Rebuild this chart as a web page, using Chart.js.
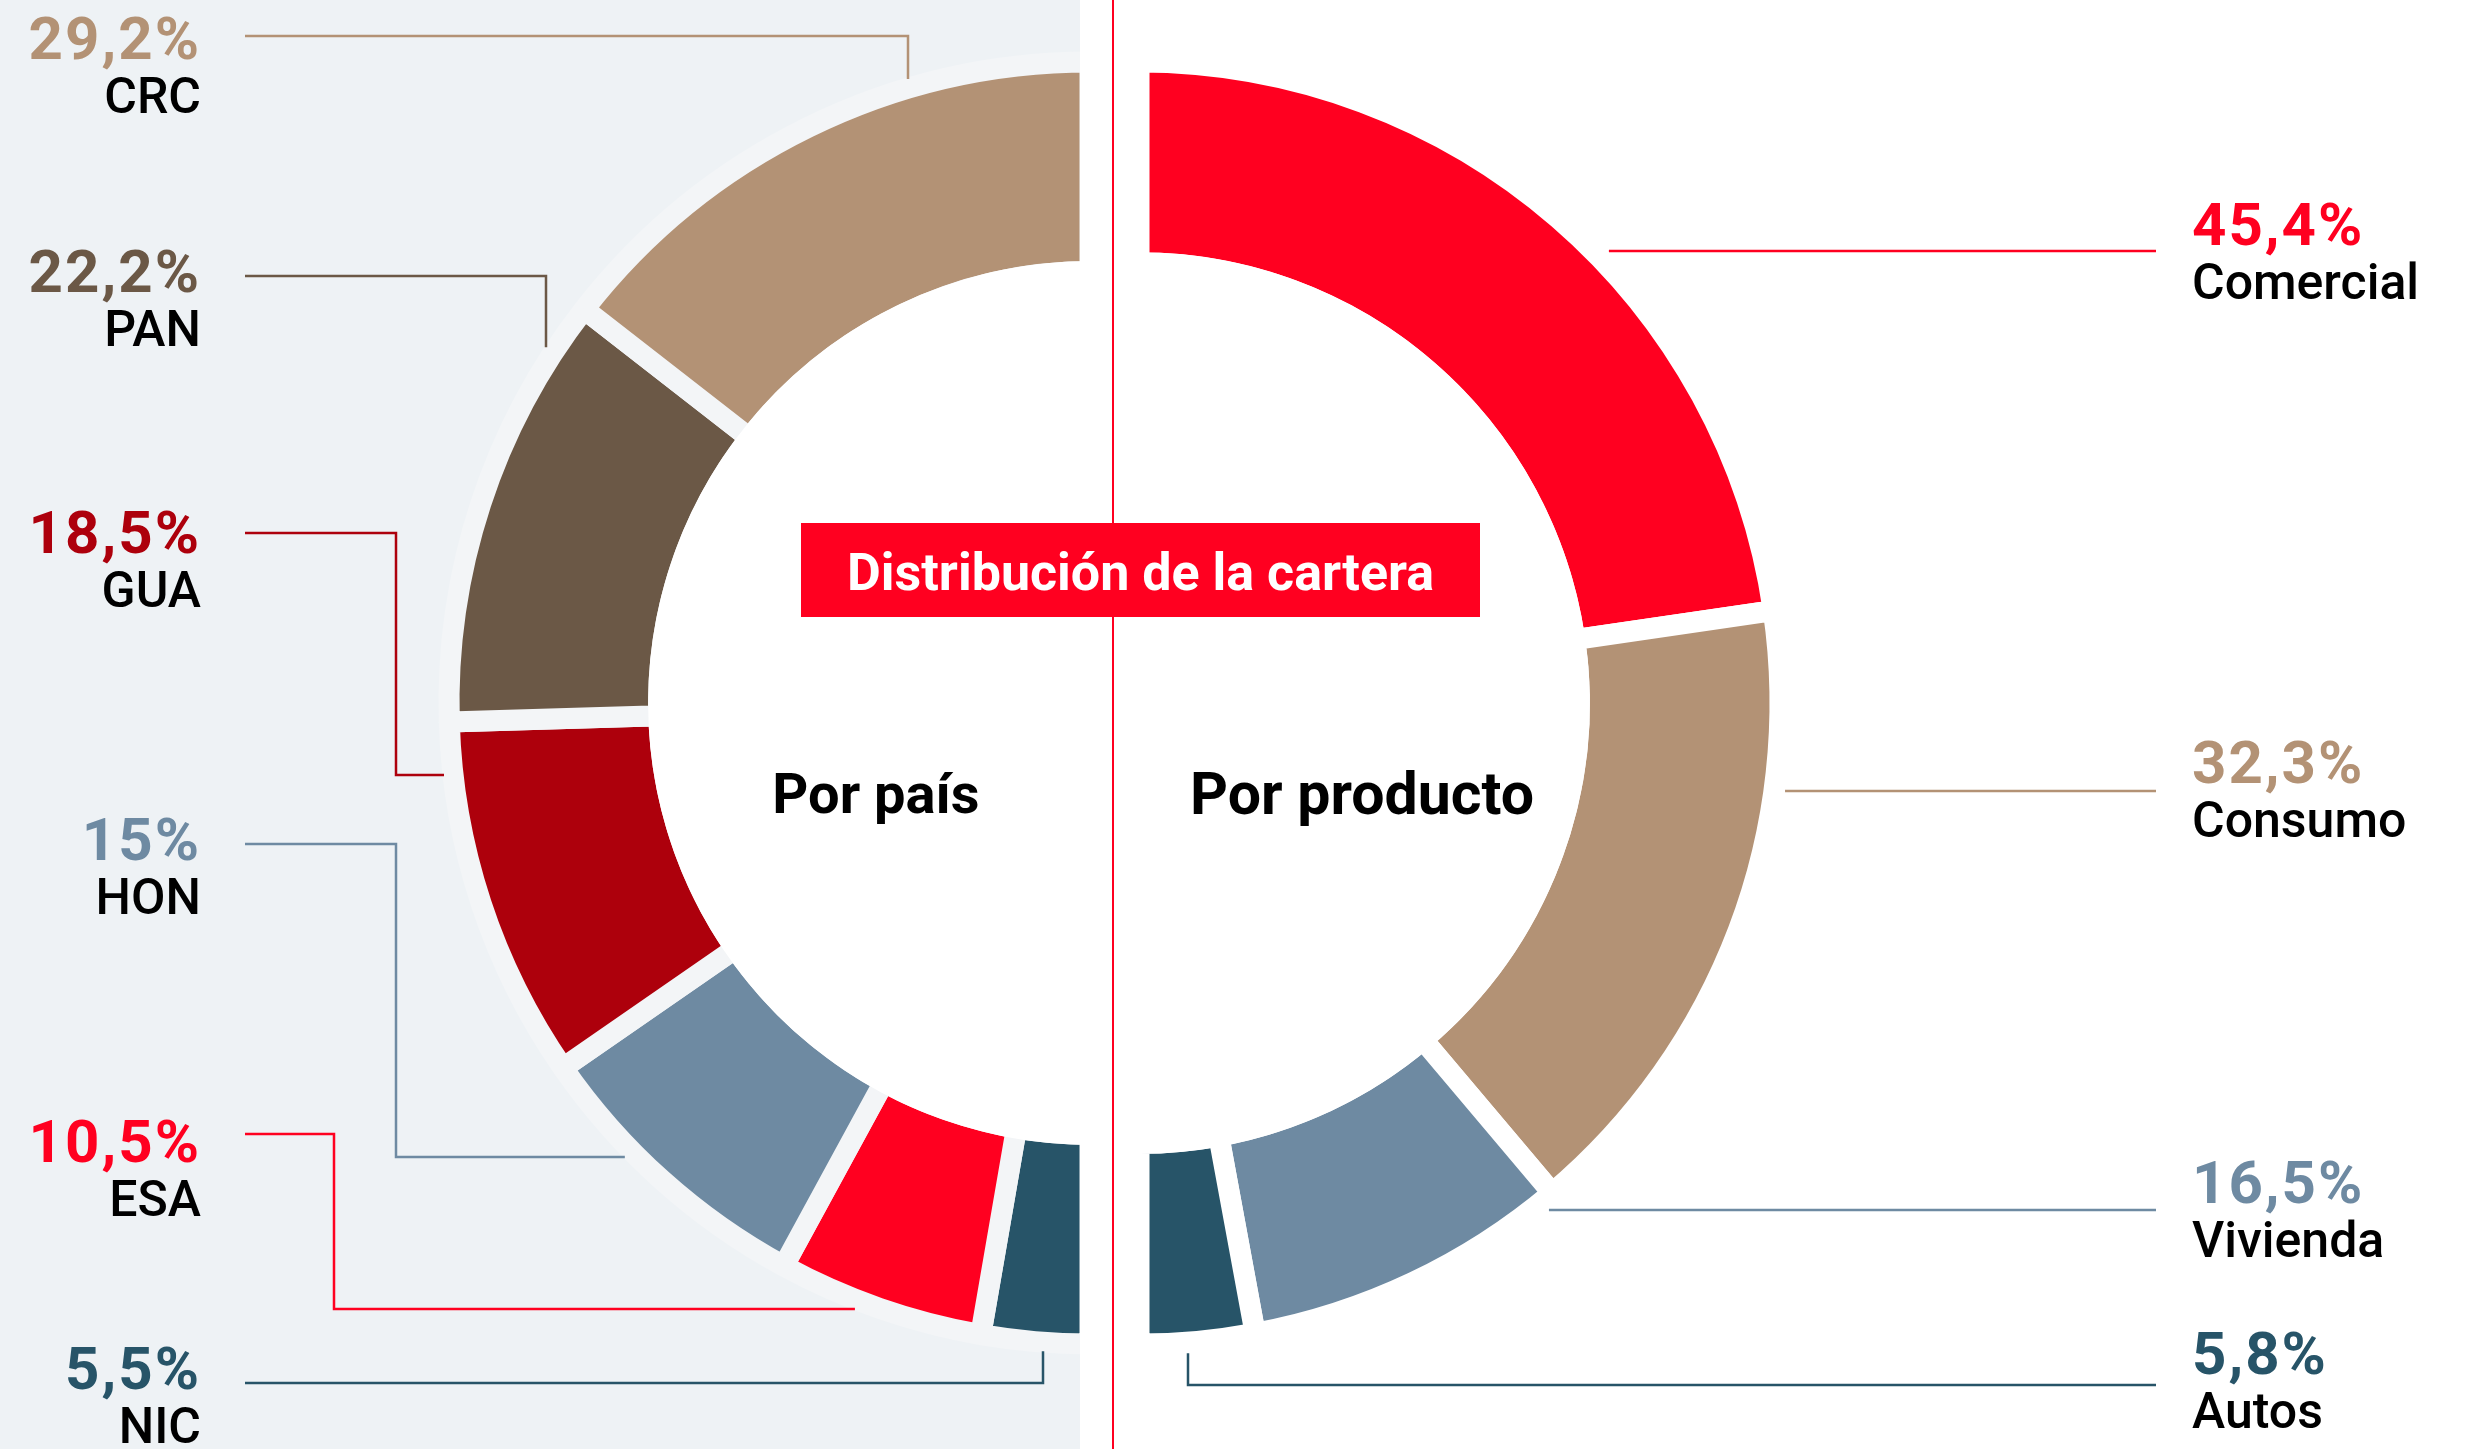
<!DOCTYPE html>
<html lang="es">
<head>
  <meta charset="UTF-8">
  <title>Distribución de la cartera</title>
  <style>
    html, body { margin: 0; padding: 0; background: #fff; }
    body { width: 2484px; height: 1449px; position: relative; overflow: hidden; font-family: Roboto, "Noto Sans", sans-serif; }
    #panel { position: absolute; left: 0; top: 0; width: 1080px; height: 1449px; background: #eef2f5; overflow: hidden; }
    #halo { position: absolute; left: 441px; top: 54px; width: 1298px; height: 1298px; border-radius: 50%; background: #f3f5f7; }
    #paisWrap { position: absolute; left: 0; top: 0; }
    #productoWrap { position: absolute; left: 1114px; top: 0; }
    #divider { position: absolute; left: 1112px; top: 0; width: 2px; height: 1449px; background: #ff0020; }
    #title { position: absolute; left: 801px; top: 523px; width: 679px; height: 94px; background: #ff0020; color: #fff;
             font-weight: 700; font-size: 52px; display: flex; align-items: center; justify-content: center; padding-top: 4px; box-sizing: border-box; }
    .sub { position: absolute; font-weight: 700; color: #000; line-height: 1; text-align: center; white-space: nowrap; }
    .pct, .name { position: absolute; line-height: 1; white-space: nowrap; }
    .pct { font-size: 60px; font-weight: 700; letter-spacing: 2px; }
    .name { font-size: 50px; font-weight: 500; color: #000; }
    .left { left: 0; width: 201px; text-align: right; }
    .right { left: 2192px; }
  </style>
</head>
<body>
  <div id="panel">
    <div id="halo"></div>
    <div id="paisWrap"><canvas id="paisChart" width="1100" height="1449"></canvas></div>
  </div>
  <div id="divider"></div>
  <div id="productoWrap"><canvas id="productoChart" width="1370" height="1449"></canvas></div>
  <div id="title">Distribución de la cartera</div>
  <div class="sub" style="left:726px;width:300px;top:766px;font-size:56px;">Por país</div>
  <div class="sub" style="left:1162px;width:400px;top:764px;font-size:59px;">Por producto</div>

  <script src="https://cdn.jsdelivr.net/npm/chart.js"></script>

  <script>
    const paisLabels = ['CRC', 'PAN', 'GUA', 'HON', 'ESA', 'NIC'];
    const paisValues = [29.2, 22.2, 18.5, 15, 10.5, 5.5];
    const productoLabels = ['Comercial', 'Consumo', 'Vivienda', 'Autos'];
    const productoValues = [45.4, 32.3, 16.5, 5.8];

    const paisColors = ['#b39275', '#6b5846', '#ad000c', '#6e8aa2', '#ff0020', '#275468'];
    const productoColors = ['#ff0020', '#b39275', '#6e8aa2', '#275468'];

    // where the labels sit on the page: baseline of the %, row of the leader line, elbow
    const paisLayout = [
      { pct: 60, line: 36, elbowX: 908 },
      { pct: 293, line: 276, elbowX: 546 },
      { pct: 554, line: 533, elbowX: 396, endY: 775 },
      { pct: 861, line: 844, elbowX: 396, endY: 1157 },
      { pct: 1163, line: 1134, elbowX: 334, endY: 1309 },
      { pct: 1390, line: 1383, elbowX: 1043 }
    ];
    const productoLayout = [
      { pct: 246, line: 251 },
      { pct: 784, line: 791 },
      { pct: 1204, line: 1210 },
      { pct: 1375, line: 1385, elbowX: 1188 }
    ];

    const GAP = 21;

    function pctText(v) {
      return String(v).replace('.', ',') + '%';
    }

    // white hole in the middle (covers the inner part of the gap stroke)
    const hole = {
      id: 'hole',
      afterDatasetsDraw(chart) {
        const arc = chart.getDatasetMeta(0).data[0];
        const ctx = chart.ctx;
        ctx.save();
        ctx.beginPath();
        ctx.arc(arc.x, arc.y, arc.innerRadius + GAP / 2, 0, Math.PI * 2);
        ctx.fillStyle = '#fff';
        ctx.fill();
        ctx.restore();
      }
    };

    const leaders = {
      id: 'leaders',
      afterDraw(chart, args, opts) {
        const ctx = chart.ctx;
        const arc = chart.getDatasetMeta(0).data[0];
        const cx = arc.x, cy = arc.y;
        const r = arc.outerRadius + opts.haloGap;
        const dx = opts.pageLeft;
        ctx.save();
        ctx.lineWidth = 2.5;
        opts.layout.forEach((l, i) => {
          const pts = [[opts.lineStart - dx, l.line]];
          if (l.endY !== undefined) {
            const x = l.elbowX - dx;
            pts.push([x, l.line], [x, l.endY]);
            pts.push([cx + opts.side * Math.sqrt(r * r - (l.endY - cy) ** 2), l.endY]);
          } else if (l.elbowX !== undefined) {
            const x = l.elbowX - dx;
            const s = l.line < cy ? -1 : 1;
            pts.push([x, l.line], [x, cy + s * Math.sqrt(r * r - (x - cx) ** 2)]);
          } else {
            pts.push([cx + opts.side * Math.sqrt(r * r - (l.line - cy) ** 2), l.line]);
          }
          ctx.strokeStyle = opts.colors[i];
          ctx.beginPath();
          pts.forEach((p, k) => k ? ctx.lineTo(p[0], p[1]) : ctx.moveTo(p[0], p[1]));
          ctx.stroke();
        });
        ctx.restore();
      }
    };

    // left half, drawn clockwise from the bottom so the list is reversed
    new Chart(document.getElementById('paisChart'), {
      type: 'doughnut',
      data: {
        labels: paisLabels.slice().reverse(),
        datasets: [{
          data: paisValues.slice().reverse(),
          backgroundColor: paisColors.slice().reverse(),
          borderColor: '#f3f5f7',
          borderWidth: GAP
        }]
      },
      options: {
        responsive: false,
        animation: false,
        events: [],
        rotation: 180,
        circumference: 180,
        radius: 641,
        cutout: '67.3%',
        layout: { padding: { left: 449, right: 10, top: 62, bottom: 105 } },
        plugins: {
          legend: { display: false },
          tooltip: { enabled: false },
          leaders: { layout: paisLayout, colors: paisColors, side: -1, lineStart: 245, pageLeft: 0, haloGap: 9 }
        }
      },
      plugins: [hole, leaders]
    });

    new Chart(document.getElementById('productoChart'), {
      type: 'doughnut',
      data: {
        labels: productoLabels,
        datasets: [{
          data: productoValues,
          backgroundColor: productoColors,
          borderColor: '#ffffff',
          borderWidth: GAP
        }]
      },
      options: {
        responsive: false,
        animation: false,
        events: [],
        rotation: 0,
        circumference: 180,
        radius: 641,
        cutout: '68.7%',
        layout: { padding: { left: 25, right: 704, top: 62, bottom: 105 } },
        plugins: {
          legend: { display: false },
          tooltip: { enabled: false },
          leaders: { layout: productoLayout, colors: productoColors, side: 1, lineStart: 2156, pageLeft: 1114, haloGap: 11 }
        }
      },
      plugins: [hole, leaders]
    });

    // text labels
    function addLabels(labels, values, colors, layout, side) {
      labels.forEach((name, i) => {
        const p = document.createElement('div');
        p.className = 'pct ' + side;
        p.style.color = colors[i];
        p.style.top = (layout[i].pct - 0.842 * 60) + 'px';
        p.textContent = pctText(values[i]);
        document.body.appendChild(p);

        const n = document.createElement('div');
        n.className = 'name ' + side;
        n.style.top = (layout[i].pct + 53 - 0.842 * 50) + 'px';
        n.textContent = name;
        document.body.appendChild(n);
      });
    }
    addLabels(paisLabels, paisValues, paisColors, paisLayout, 'left');
    addLabels(productoLabels, productoValues, productoColors, productoLayout, 'right');
  </script>
</body>
</html>
